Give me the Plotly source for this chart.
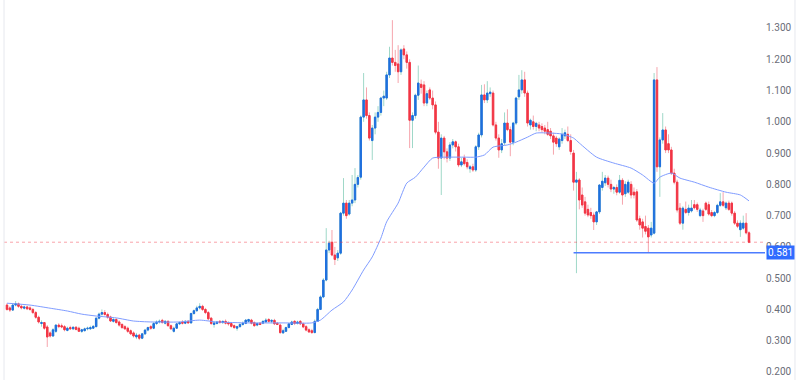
import plotly.graph_objects as go

# ---------------- data ----------------
open_ = [
    0.414,0.405,0.398,0.414,0.418,0.410,0.404,0.408,0.405,0.400,
    0.390,0.375,0.355,0.358,0.344,0.325,0.315,0.330,0.350,0.348,
    0.345,0.333,0.342,0.338,0.343,0.340,0.330,0.332,0.338,0.338,
    0.340,0.345,0.372,0.385,0.390,0.384,0.376,0.362,0.368,0.360,
    0.352,0.345,0.340,0.332,0.325,0.312,0.318,0.308,0.322,0.334,
    0.345,0.340,0.355,0.360,0.365,0.356,0.362,0.348,0.330,0.340,
    0.354,0.360,0.356,0.362,0.357,0.387,0.396,0.405,0.410,0.400,
    0.390,0.372,0.352,0.355,0.362,0.358,0.362,0.358,0.355,0.348,
    0.340,0.345,0.352,0.355,0.362,0.366,0.358,0.350,0.356,0.356,
    0.360,0.368,0.362,0.365,0.356,0.350,0.325,0.330,0.342,0.352,
    0.362,0.355,0.362,0.354,0.345,0.335,0.332,0.326,0.362,0.400,
    0.440,0.494,0.590,0.615,0.574,0.565,0.580,0.708,0.740,0.705,
    0.740,0.750,0.800,0.823,1.015,1.070,1.020,0.940,0.980,1.015,
    1.030,1.076,1.076,1.150,1.204,1.190,1.185,1.160,1.233,1.214,
    1.190,1.005,1.020,1.085,1.120,1.118,1.060,1.102,1.076,1.054,
    0.967,0.884,0.948,0.904,0.884,0.926,0.936,0.920,0.862,0.885,
    0.870,0.850,0.856,0.846,0.920,0.958,1.086,1.070,1.090,1.092,
    0.990,0.948,0.910,0.933,0.996,0.975,0.935,0.996,1.080,1.102,
    1.134,1.092,0.990,1.000,0.985,0.990,0.985,0.980,0.975,0.970,
    0.955,0.948,0.920,0.940,0.955,0.960,0.940,0.900,0.807,0.814,
    0.766,0.744,0.720,0.710,0.702,0.680,0.712,0.790,0.805,0.820,
    0.800,0.785,0.790,0.775,0.813,0.770,0.775,0.800,0.775,0.776,
    0.690,0.680,0.665,0.660,0.638,0.644,1.134,0.856,0.942,0.974,
    0.930,0.910,0.836,0.807,0.724,0.676,0.720,0.710,0.715,0.735,
    0.735,0.700,0.715,0.740,0.735,0.710,0.700,0.710,0.733,0.744,
    0.725,0.740,0.740,0.708,0.676,0.655,0.660,0.676,0.645,
]
high = [
    0.420,0.410,0.420,0.427,0.422,0.415,0.412,0.412,0.410,0.405,
    0.395,0.380,0.365,0.360,0.350,0.330,0.340,0.352,0.356,0.355,
    0.350,0.345,0.348,0.346,0.347,0.345,0.338,0.342,0.345,0.348,
    0.350,0.375,0.390,0.400,0.398,0.390,0.380,0.372,0.372,0.365,
    0.356,0.350,0.345,0.336,0.330,0.325,0.322,0.325,0.338,0.345,
    0.350,0.360,0.365,0.368,0.370,0.366,0.365,0.352,0.345,0.356,
    0.362,0.366,0.366,0.366,0.390,0.400,0.412,0.420,0.415,0.405,
    0.395,0.376,0.360,0.362,0.366,0.364,0.368,0.362,0.360,0.352,
    0.348,0.356,0.362,0.368,0.370,0.370,0.362,0.358,0.360,0.365,
    0.372,0.372,0.368,0.370,0.360,0.355,0.338,0.345,0.356,0.364,
    0.366,0.364,0.366,0.358,0.350,0.340,0.338,0.368,0.405,0.445,
    0.500,0.660,0.620,0.654,0.600,0.590,0.712,0.820,0.750,0.750,
    0.830,0.852,0.830,1.020,1.156,1.110,1.030,0.990,1.030,1.050,
    1.080,1.100,1.160,1.240,1.325,1.230,1.245,1.235,1.245,1.225,
    1.200,1.030,1.090,1.180,1.135,1.130,1.100,1.110,1.100,1.065,
    1.000,0.960,0.955,0.915,0.935,0.945,0.940,0.930,0.885,0.895,
    0.880,0.862,0.866,0.925,0.965,1.118,1.120,1.130,1.110,1.100,
    1.000,0.960,0.945,1.030,1.040,0.985,1.000,1.080,1.150,1.165,
    1.160,1.100,1.010,1.020,1.000,1.000,0.995,0.990,1.000,0.980,
    0.965,0.955,0.950,0.980,0.975,0.985,0.960,0.910,0.840,0.820,
    0.790,0.760,0.735,0.725,0.710,0.715,0.800,0.840,0.830,0.828,
    0.815,0.795,0.800,0.830,0.820,0.810,0.815,0.810,0.790,0.785,
    0.700,0.690,0.700,0.670,0.680,1.156,1.175,0.950,1.028,0.985,
    0.960,0.920,0.850,0.815,0.740,0.730,0.745,0.735,0.750,0.750,
    0.742,0.725,0.722,0.745,0.745,0.718,0.715,0.738,0.772,0.775,
    0.745,0.748,0.745,0.715,0.685,0.685,0.700,0.708,0.650,
]
low = [
    0.396,0.392,0.395,0.410,0.405,0.400,0.400,0.398,0.396,0.385,
    0.370,0.355,0.345,0.335,0.280,0.310,0.312,0.325,0.340,0.340,
    0.330,0.330,0.335,0.334,0.333,0.328,0.325,0.330,0.333,0.335,
    0.338,0.343,0.368,0.380,0.380,0.370,0.360,0.358,0.355,0.345,
    0.338,0.335,0.325,0.318,0.310,0.305,0.302,0.305,0.318,0.330,
    0.335,0.337,0.350,0.355,0.355,0.352,0.345,0.335,0.326,0.338,
    0.350,0.352,0.353,0.354,0.355,0.383,0.392,0.400,0.395,0.385,
    0.365,0.350,0.342,0.352,0.355,0.354,0.352,0.348,0.342,0.338,
    0.332,0.342,0.348,0.353,0.358,0.352,0.345,0.346,0.350,0.353,
    0.357,0.358,0.356,0.350,0.350,0.322,0.322,0.328,0.340,0.350,
    0.350,0.352,0.350,0.340,0.330,0.325,0.322,0.324,0.360,0.398,
    0.436,0.490,0.580,0.570,0.542,0.555,0.575,0.700,0.690,0.700,
    0.730,0.740,0.790,0.815,1.000,1.010,0.940,0.878,0.960,1.000,
    1.020,1.050,1.070,1.140,1.180,1.160,1.124,1.150,1.200,1.170,
    0.916,0.916,1.010,1.070,1.090,1.050,1.050,1.070,1.040,0.960,
    0.850,0.766,0.880,0.870,0.875,0.915,0.905,0.855,0.855,0.860,
    0.848,0.837,0.840,0.840,0.910,0.950,1.060,1.060,1.080,0.985,
    0.940,0.885,0.900,0.925,0.970,0.890,0.925,0.990,1.070,1.090,
    1.080,0.985,0.975,0.975,0.970,0.970,0.965,0.960,0.955,0.945,
    0.895,0.920,0.910,0.930,0.945,0.935,0.895,0.780,0.516,0.720,
    0.725,0.700,0.695,0.690,0.654,0.670,0.705,0.780,0.795,0.790,
    0.775,0.770,0.765,0.770,0.735,0.760,0.770,0.755,0.755,0.680,
    0.655,0.630,0.640,0.583,0.630,0.640,0.840,0.760,0.930,0.900,
    0.900,0.830,0.800,0.710,0.670,0.655,0.705,0.700,0.710,0.720,
    0.712,0.695,0.680,0.715,0.700,0.695,0.695,0.705,0.728,0.728,
    0.718,0.715,0.700,0.670,0.660,0.632,0.655,0.640,0.612,
]
close_ = [
    0.400,0.398,0.414,0.418,0.410,0.405,0.408,0.402,0.400,0.390,
    0.375,0.360,0.358,0.340,0.312,0.315,0.335,0.350,0.345,0.344,
    0.335,0.340,0.338,0.343,0.336,0.330,0.335,0.338,0.340,0.342,
    0.346,0.372,0.385,0.390,0.384,0.375,0.363,0.368,0.358,0.350,
    0.342,0.338,0.330,0.322,0.315,0.318,0.308,0.322,0.334,0.342,
    0.340,0.355,0.360,0.362,0.358,0.362,0.348,0.338,0.340,0.354,
    0.358,0.356,0.362,0.357,0.387,0.396,0.405,0.410,0.400,0.390,
    0.370,0.355,0.357,0.360,0.358,0.362,0.356,0.354,0.346,0.342,
    0.345,0.352,0.356,0.366,0.368,0.356,0.348,0.355,0.352,0.362,
    0.366,0.362,0.365,0.354,0.352,0.326,0.332,0.342,0.354,0.360,
    0.355,0.360,0.354,0.344,0.334,0.328,0.326,0.362,0.400,0.440,
    0.494,0.590,0.612,0.574,0.560,0.580,0.708,0.740,0.700,0.740,
    0.750,0.800,0.822,1.015,1.070,1.020,0.948,0.980,1.015,1.030,
    1.076,1.082,1.150,1.204,1.190,1.180,1.160,1.230,1.214,1.190,
    1.005,1.020,1.085,1.124,1.110,1.060,1.090,1.076,1.054,0.967,
    0.884,0.948,0.904,0.884,0.926,0.936,0.920,0.862,0.872,0.866,
    0.856,0.856,0.846,0.920,0.958,1.086,1.070,1.092,1.095,0.990,
    0.948,0.910,0.930,0.996,0.975,0.935,0.996,1.076,1.102,1.134,
    1.092,0.996,1.005,0.985,0.995,0.980,0.975,0.970,0.960,0.955,
    0.935,0.930,0.945,0.960,0.965,0.940,0.905,0.807,0.814,0.750,
    0.734,0.708,0.702,0.700,0.680,0.712,0.798,0.810,0.820,0.800,
    0.785,0.790,0.775,0.813,0.766,0.800,0.807,0.766,0.766,0.686,
    0.670,0.660,0.650,0.632,0.660,1.134,0.856,0.942,0.974,0.910,
    0.910,0.836,0.807,0.718,0.676,0.724,0.710,0.724,0.724,0.725,
    0.720,0.718,0.700,0.720,0.705,0.700,0.710,0.733,0.744,0.733,
    0.740,0.720,0.708,0.676,0.666,0.676,0.676,0.645,0.615,
]

# moving-average line, sampled at candle indices
ma_idx = [0,8,15,21,26,31,38,44,50,60,
          67,73,84,96,106,109,113,117,120,124,
          127,130,132,136,139,142,145,148,154,159,
          163,166,169,174,177,181,184,189,193,197,
          199,205,211,217,221,225,227,231,234,239,
          244,250,255,258]
ma_val = [0.420,0.414,0.404,0.395,0.385,0.379,0.373,0.363,0.360,0.360,
          0.366,0.360,0.357,0.357,0.357,0.366,0.398,0.424,0.462,0.526,
          0.568,0.628,0.680,0.740,0.804,0.823,0.855,0.884,0.887,0.887,
          0.887,0.894,0.919,0.926,0.935,0.951,0.964,0.964,0.961,0.948,
          0.932,0.887,0.868,0.852,0.830,0.804,0.823,0.836,0.820,0.807,
          0.791,0.775,0.766,0.747]

support_level = 0.581
support_start = 197
y_ticks = [0.2, 0.3, 0.4, 0.5, 0.6, 0.7, 0.8, 0.9, 1.0, 1.1, 1.2, 1.3]
y_ticktext = ["0.200", "0.300", "0.400", "0.500", "0.600", "0.700",
              "0.800", "0.900", "1.000", "1.100", "1.200", "1.300"]

# ---------------- styling ----------------
UP = "#1f6fde"
DN = "#f23645"
UP_WICK = "#9fd8c8"
DN_WICK = "#f6a5ad"
MA_COL = "#7f9cff"
LEVEL_COL = "#4d7cff"

x = list(range(len(close_)))
x_range = [-1.04, 263.56]
body_hi = [max(o, c) for o, c in zip(open_, close_)]
body_lo = [min(o, c) for o, c in zip(open_, close_)]

fig = go.Figure()
# wicks (light colours)
fig.add_trace(go.Candlestick(
    x=x, open=open_, high=high, low=low, close=close_,
    increasing=dict(line=dict(color=UP_WICK, width=1), fillcolor=UP_WICK),
    decreasing=dict(line=dict(color=DN_WICK, width=1), fillcolor=DN_WICK),
    whiskerwidth=0, showlegend=False, hoverinfo="skip"))
# bodies (strong colours)
fig.add_trace(go.Candlestick(
    x=x, open=open_, high=body_hi, low=body_lo, close=close_,
    increasing=dict(line=dict(color=UP, width=1), fillcolor=UP),
    decreasing=dict(line=dict(color=DN, width=1), fillcolor=DN),
    whiskerwidth=0, showlegend=False, hoverinfo="skip"))
# moving average
fig.add_trace(go.Scatter(
    x=ma_idx, y=ma_val, mode="lines",
    line=dict(color=MA_COL, width=1, shape="spline", smoothing=0.6),
    showlegend=False, hoverinfo="skip"))
# support level line
fig.add_trace(go.Scatter(
    x=[support_start, x_range[1]], y=[support_level, support_level], mode="lines",
    line=dict(color=LEVEL_COL, width=1.5), showlegend=False, hoverinfo="skip",
    cliponaxis=False))

fig.update_layout(
    width=800, height=380,
    margin=dict(l=4, r=35, t=0, b=0),
    paper_bgcolor="white", plot_bgcolor="white",
    font=dict(family="Roboto, Arial, sans-serif", size=10, color="#6a6d78"),
    showlegend=False,
    xaxis=dict(visible=False, range=x_range, rangeslider=dict(visible=False)),
    yaxis=dict(side="right", range=[0.1744, 1.3895], tickvals=y_ticks,
               ticktext=y_ticktext, showgrid=False, zeroline=False,
               ticks="", showline=False, tickfont=dict(size=10, color="#6a6d78")),
    shapes=[
        dict(type="line", xref="paper", yref="y", x0=0, x1=1,
             y0=close_[-1], y1=close_[-1],
             line=dict(color="rgba(242,54,69,0.45)", width=1, dash="dot")),
        dict(type="line", xref="paper", yref="paper", x0=0, x1=0, y0=0, y1=1,
             line=dict(color="#e6e8ee", width=1)),
        dict(type="line", xref="paper", yref="paper", x0=1.0394, x1=1.0394, y0=0, y1=1,
             line=dict(color="#e6e8ee", width=1)),
    ],
    annotations=[
        dict(x=1, xref="paper", y=support_level, yref="y", xanchor="left",
             xshift=1, text="0.581", showarrow=False, bgcolor="#2f6bff",
             font=dict(color="white", size=10), borderpad=1),
    ],
)

fig.write_html("out.html",
               config={"displayModeBar": False},
               post_script="document.body.style.margin='0';document.body.style.overflow='hidden';")
